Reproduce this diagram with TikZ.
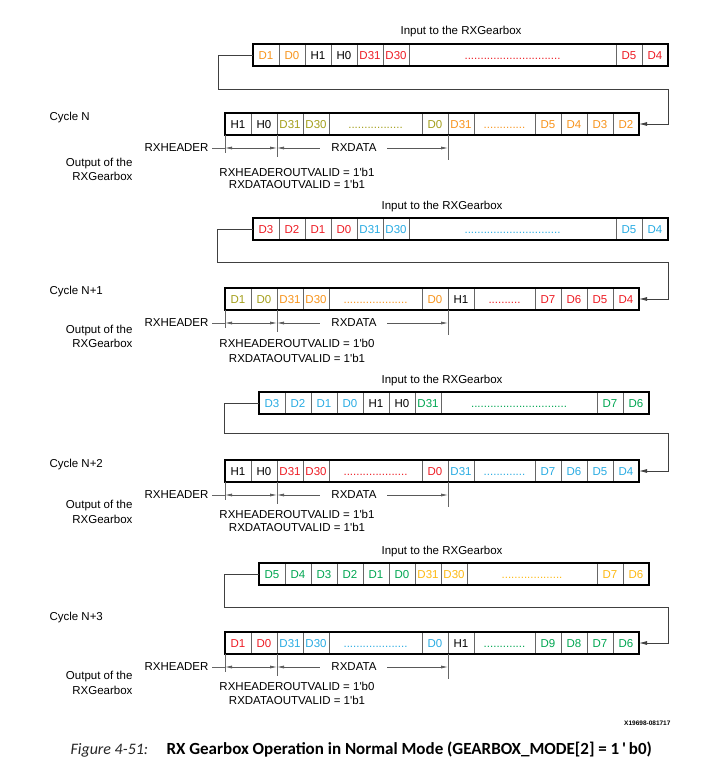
\documentclass[tikz,border=0pt]{standalone}
\usepackage{fontspec}
\setmainfont{Liberation Sans}
\newfontfamily\capfont{Carlito}
\usetikzlibrary{arrows.meta, positioning, calc}
\definecolor{dorange}{HTML}{F7941D}
\definecolor{dred}{HTML}{ED1C24}
\definecolor{dolive}{HTML}{A39E1A}
\definecolor{dblue}{HTML}{29ABE2}
\definecolor{dgreen}{HTML}{00A651}
\definecolor{dyellow}{HTML}{FDB913}

\begin{document}
\begin{tikzpicture}[
    x=1pt, y=-1pt,
    every node/.style={font=\fontsize{11.5}{14.5}\selectfont},
    cell/.style={
        draw=black!60, line width=1pt, minimum height=22pt, inner sep=0pt,
        outer sep=0pt, anchor=west, text height=8.3pt, text depth=0pt
    },
    start/.style={inner sep=0pt, outer sep=0pt, minimum size=0pt},
    frame/.style={draw=black, line width=1.7pt},
    feed/.style={-{Latex[length=8pt,width=4pt]}, draw=black!75, line width=0.8pt},
    dimline/.style={draw=black!60, line width=0.7pt},
    dimarrow/.style={{Latex[length=7pt,width=3pt]}-{Latex[length=7pt,width=3pt]},
        draw=black!65, line width=0.7pt},
    gap/.style={fill=white, inner xsep=11pt, inner ysep=1pt},
]
\useasboundingbox (0,0) rectangle (713,767);

% ===== Cycle N =====
\node (title1) at (461,32) {Input to the RXGearbox};
\node[start] (in1-0) at (253,55) {};
\foreach \t/\c/\w [count=\i, remember=\i as \j (initially 0)] in
    {D1/dorange/26, D0/dorange/26, H1/black/26, H0/black/26, D31/dred/26,
     D30/dred/26, {..............................}/dred/207, D5/dred/26, D4/dred/26}
    \node[cell, text=\c, minimum width=\w pt] (in1-\i) at (in1-\j.east) {\t};
\draw[frame] (in1-1.north west) rectangle (in1-9.south east);

\node[start] (out1-0) at (225,124) {};
\foreach \t/\c/\w [count=\i, remember=\i as \j (initially 0)] in
    {H1/black/26, H0/black/26, D31/dolive/26, D30/dolive/26,
     {.................}/dolive/93, D0/dolive/26, D31/dorange/26,
     {.............}/dorange/61, D5/dorange/26, D4/dorange/26, D3/dorange/26, D2/dorange/26}
    \node[cell, text=\c, minimum width=\w pt] (out1-\i) at (out1-\j.east) {\t};
\draw[frame] (out1-1.north west) rectangle (out1-12.south east);

\coordinate (turn1a) at (218,89);
\coordinate (turn1b) at (668,89);
\draw[feed] (in1-1.west) -| (turn1a) -- (turn1b) |- (out1-12.east);

\node[anchor=west] (cycle1) at (46,118) {Cycle N};
\node[anchor=east, align=right] (outlbl1) at (136,169.5) {Output of the\\RXGearbox};

\coordinate (dim1a) at ($(out1-1.south west)+(0,13)$);
\coordinate (dim1b) at ($(out1-3.south west)+(0,13)$);
\coordinate (dim1c) at ($(out1-7.south west)+(0,13)$);
\draw[dimline] (out1-1.south west) -- ++(0,18);
\draw[dimline] (out1-3.south west) -- ++(0,22);
\draw[dimline] (out1-7.south west) -- ++(0,25);
\draw[dimarrow] (dim1a) -- (dim1b);
\draw[dimarrow] (dim1b) -- (dim1c) node[pos=0.45, gap] {RXDATA};
\node[anchor=east] (hdr1) at ($(dim1a)+(-13,0)$) {RXHEADER};
\draw[dimline] (hdr1) -- (dim1a);

\node (hvalid1) at (297,172) {RXHEADEROUTVALID = 1\textquotesingle b1};
\node (dvalid1) at (297,184.5) {RXDATAOUTVALID = 1\textquotesingle b1};

% ===== Cycle N+1 =====
\node (title2) at (442,207) {Input to the RXGearbox};
\node[start] (in2-0) at (253,229) {};
\foreach \t/\c/\w [count=\i, remember=\i as \j (initially 0)] in
    {D3/dred/26, D2/dred/26, D1/dred/26, D0/dred/26, D31/dblue/26,
     D30/dblue/26, {..............................}/dblue/207, D5/dblue/26, D4/dblue/26}
    \node[cell, text=\c, minimum width=\w pt] (in2-\i) at (in2-\j.east) {\t};
\draw[frame] (in2-1.north west) rectangle (in2-9.south east);

\node[start] (out2-0) at (225,299) {};
\foreach \t/\c/\w [count=\i, remember=\i as \j (initially 0)] in
    {D1/dolive/26, D0/dolive/26, D31/dorange/26, D30/dorange/26,
     {....................}/dorange/93, D0/dorange/26, H1/black/26,
     {..........}/dred/61, D7/dred/26, D6/dred/26, D5/dred/26, D4/dred/26}
    \node[cell, text=\c, minimum width=\w pt] (out2-\i) at (out2-\j.east) {\t};
\draw[frame] (out2-1.north west) rectangle (out2-12.south east);

\coordinate (turn2a) at (217,262);
\coordinate (turn2b) at (668,262);
\draw[feed] (in2-1.west) -| (turn2a) -- (turn2b) |- (out2-12.east);

\node[anchor=west] (cycle2) at (46,292) {Cycle N+1};
\node[anchor=east, align=right] (outlbl2) at (136,336.5) {Output of the\\RXGearbox};

\coordinate (dim2a) at ($(out2-1.south west)+(0,13)$);
\coordinate (dim2b) at ($(out2-3.south west)+(0,13)$);
\coordinate (dim2c) at ($(out2-7.south west)+(0,13)$);
\draw[dimline] (out2-1.south west) -- ++(0,18);
\draw[dimline] (out2-3.south west) -- ++(0,22);
\draw[dimline] (out2-7.south west) -- ++(0,25);
\draw[dimarrow] (dim2a) -- (dim2b);
\draw[dimarrow] (dim2b) -- (dim2c) node[pos=0.45, gap] {RXDATA};
\node[anchor=east] (hdr2) at ($(dim2a)+(-13,0)$) {RXHEADER};
\draw[dimline] (hdr2) -- (dim2a);

\node (hvalid2) at (297,343) {RXHEADEROUTVALID = 1\textquotesingle b0};
\node (dvalid2) at (297,358) {RXDATAOUTVALID = 1\textquotesingle b1};

% ===== Cycle N+2 =====
\node (title3) at (442,381) {Input to the RXGearbox};
\node[start] (in3-0) at (259,403) {};
\foreach \t/\c/\w [count=\i, remember=\i as \j (initially 0)] in
    {D3/dblue/26, D2/dblue/26, D1/dblue/26, D0/dblue/26, H1/black/26, H0/black/26,
     D31/dgreen/26, {..............................}/dgreen/156, D7/dgreen/26, D6/dgreen/26}
    \node[cell, text=\c, minimum width=\w pt] (in3-\i) at (in3-\j.east) {\t};
\draw[frame] (in3-1.north west) rectangle (in3-10.south east);

\node[start] (out3-0) at (225,471) {};
\foreach \t/\c/\w [count=\i, remember=\i as \j (initially 0)] in
    {H1/black/26, H0/black/26, D31/dred/26, D30/dred/26,
     {....................}/dred/93, D0/dred/26, D31/dblue/26,
     {.............}/dblue/61, D7/dblue/26, D6/dblue/26, D5/dblue/26, D4/dblue/26}
    \node[cell, text=\c, minimum width=\w pt] (out3-\i) at (out3-\j.east) {\t};
\draw[frame] (out3-1.north west) rectangle (out3-12.south east);

\coordinate (turn3a) at (224,433);
\coordinate (turn3b) at (668,433);
\draw[feed] (in3-1.west) -| (turn3a) -- (turn3b) |- (out3-12.east);

\node[anchor=west] (cycle3) at (46,465) {Cycle N+2};
\node[anchor=east, align=right] (outlbl3) at (136,512) {Output of the\\RXGearbox};

\coordinate (dim3a) at ($(out3-1.south west)+(0,13)$);
\coordinate (dim3b) at ($(out3-3.south west)+(0,13)$);
\coordinate (dim3c) at ($(out3-7.south west)+(0,13)$);
\draw[dimline] (out3-1.south west) -- ++(0,18);
\draw[dimline] (out3-3.south west) -- ++(0,22);
\draw[dimline] (out3-7.south west) -- ++(0,25);
\draw[dimarrow] (dim3a) -- (dim3b);
\draw[dimarrow] (dim3b) -- (dim3c) node[pos=0.45, gap] {RXDATA};
\node[anchor=east] (hdr3) at ($(dim3a)+(-13,0)$) {RXHEADER};
\draw[dimline] (hdr3) -- (dim3a);

\node (hvalid3) at (297,514) {RXHEADEROUTVALID = 1\textquotesingle b1};
\node (dvalid3) at (297,527) {RXDATAOUTVALID = 1\textquotesingle b1};

% ===== Cycle N+3 =====
\node (title4) at (442,552) {Input to the RXGearbox};
\node[start] (in4-0) at (259,574) {};
\foreach \t/\c/\w [count=\i, remember=\i as \j (initially 0)] in
    {D5/dgreen/26, D4/dgreen/26, D3/dgreen/26, D2/dgreen/26, D1/dgreen/26, D0/dgreen/26,
     D31/dyellow/26, D30/dyellow/26, {...................}/dyellow/130,
     D7/dyellow/26, D6/dyellow/26}
    \node[cell, text=\c, minimum width=\w pt] (in4-\i) at (in4-\j.east) {\t};
\draw[frame] (in4-1.north west) rectangle (in4-11.south east);

\node[start] (out4-0) at (225,643) {};
\foreach \t/\c/\w [count=\i, remember=\i as \j (initially 0)] in
    {D1/dred/26, D0/dred/26, D31/dblue/26, D30/dblue/26,
     {....................}/dblue/93, D0/dblue/26, H1/black/26,
     {.............}/dgreen/61, D9/dgreen/26, D8/dgreen/26, D7/dgreen/26, D6/dgreen/26}
    \node[cell, text=\c, minimum width=\w pt] (out4-\i) at (out4-\j.east) {\t};
\draw[frame] (out4-1.north west) rectangle (out4-12.south east);

\coordinate (turn4a) at (224,607);
\coordinate (turn4b) at (668,607);
\draw[feed] (in4-1.west) -| (turn4a) -- (turn4b) |- (out4-12.east);

\node[anchor=west] (cycle4) at (46,618) {Cycle N+3};
\node[anchor=east, align=right] (outlbl4) at (136,683) {Output of the\\RXGearbox};

\coordinate (dim4a) at ($(out4-1.south west)+(0,13)$);
\coordinate (dim4b) at ($(out4-3.south west)+(0,13)$);
\coordinate (dim4c) at ($(out4-7.south west)+(0,13)$);
\draw[dimline] (out4-1.south west) -- ++(0,18);
\draw[dimline] (out4-3.south west) -- ++(0,22);
\draw[dimline] (out4-7.south west) -- ++(0,25);
\draw[dimarrow] (dim4a) -- (dim4b);
\draw[dimarrow] (dim4b) -- (dim4c) node[pos=0.45, gap] {RXDATA};
\node[anchor=east] (hdr4) at ($(dim4a)+(-13,0)$) {RXHEADER};
\draw[dimline] (hdr4) -- (dim4a);

\node (hvalid4) at (297,686) {RXHEADEROUTVALID = 1\textquotesingle b0};
\node (dvalid4) at (297,700) {RXDATAOUTVALID = 1\textquotesingle b1};

% ===== Caption =====
\node[anchor=east, font=\fontsize{6.5}{8}\selectfont\bfseries] (figid) at (674,723) {X19698-081717};
\node[anchor=west, font=\capfont\fontsize{16}{20}\selectfont\itshape, text=black!85] (capnum)
    at (67,750) {Figure 4-51:};
\node[anchor=west, font=\capfont\fontsize{17}{20}\selectfont\bfseries] (captxt)
    at (163,750) {RX Gearbox Operation in Normal Mode (GEARBOX\_MODE[2] = 1\,\textquotesingle\,b0)};

\end{tikzpicture}
\end{document}
